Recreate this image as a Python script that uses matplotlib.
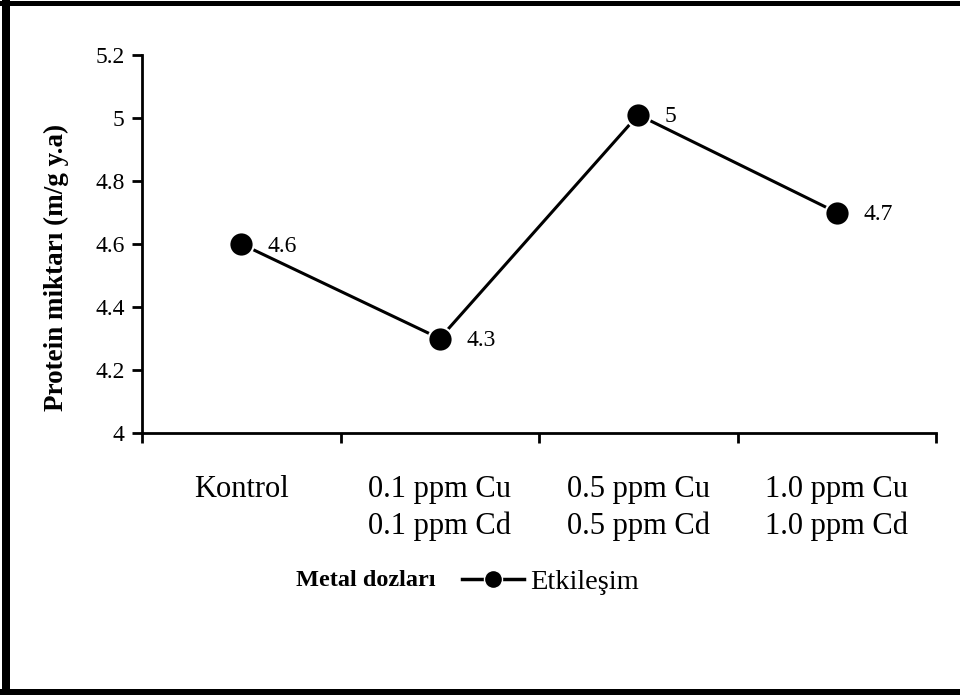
import matplotlib
matplotlib.use("Agg")
import matplotlib.pyplot as plt
from matplotlib.lines import Line2D

categories = ["Kontrol", "0.1 ppm Cu\n0.1 ppm Cd", "0.5 ppm Cu\n0.5 ppm Cd", "1.0 ppm Cu\n1.0 ppm Cd"]
values = [4.6, 4.3, 5.01, 4.7]
value_labels = ["4.6", "4.3", "5", "4.7"]
series_name = "Etkileşim"
y_ticks = [4, 4.2, 4.4, 4.6, 4.8, 5, 5.2]
y_tick_labels = ["4", "4.2", "4.4", "4.6", "4.8", "5", "5.2"]

plt.rcParams['font.family'] = ['Liberation Serif', 'DejaVu Serif']

W, H = 960, 695
fig = plt.figure(figsize=(9.6, 6.95), dpi=100)
ax = fig.add_axes([142/W, 1-433/H, (936-142)/W, (433-55)/H])

x = list(range(len(categories)))
ax.plot(x, values, color='black', lw=2.2, marker='o', ms=17.5, mfc='black',
        mec='white', mew=1.5, zorder=3, clip_on=False)
for xi, v, lab in zip(x, values, value_labels):
    ax.annotate(lab, (xi, v), xytext=(19, -1.5), textcoords='offset points',
                ha='left', va='center', fontsize=17)

ax.set_xlim(-0.5, len(categories) - 0.5)
ax.set_ylim(4, 5.2)
ax.set_yticks(y_ticks)
ax.set_yticklabels(y_tick_labels, fontsize=17)
ax.set_xticks([i - 0.5 for i in range(len(categories) + 1)])
ax.set_xticklabels([])
ax.set_xticks(x, minor=True)
ax.set_xticklabels(categories, minor=True, fontsize=22, linespacing=1.33)
ax.tick_params(axis='x', which='minor', length=0, pad=30)
ax.tick_params(axis='both', which='major', direction='out', length=7.5, width=2)
ax.tick_params(axis='y', pad=5)
for s in ['top', 'right']:
    ax.spines[s].set_visible(False)
for s in ['left', 'bottom']:
    ax.spines[s].set_linewidth(2)

ax.set_ylabel("Protein miktarı (m/g y.a)", fontsize=19.5, fontweight='bold')
ax.yaxis.set_label_coords(69/W, 1-267/H, transform=fig.transFigure)

fig.text(366/W, 1-580/H, "Metal dozları", fontsize=17.5, fontweight='bold',
         ha='center', va='center')
handle = Line2D([], [], color='black', lw=2.5, marker='o', ms=13, mfc='black', mec='white', mew=1)
fig.legend([handle], [series_name], loc='center left', bbox_to_anchor=(436/W, 1-582/H),
           frameon=False, fontsize=20.5, handlelength=2.2, handletextpad=0.2)

# figure border (top, left, bottom)
fig.add_artist(Line2D([0, 1], [1-2.5/H, 1-2.5/H], transform=fig.transFigure, color='black', lw=5*0.72))
fig.add_artist(Line2D([6/W, 6/W], [0, 1], transform=fig.transFigure, color='black', lw=8*0.72))
fig.add_artist(Line2D([0, 1], [3/H, 3/H], transform=fig.transFigure, color='black', lw=6*0.72))

fig.savefig("out.png", dpi=100)
